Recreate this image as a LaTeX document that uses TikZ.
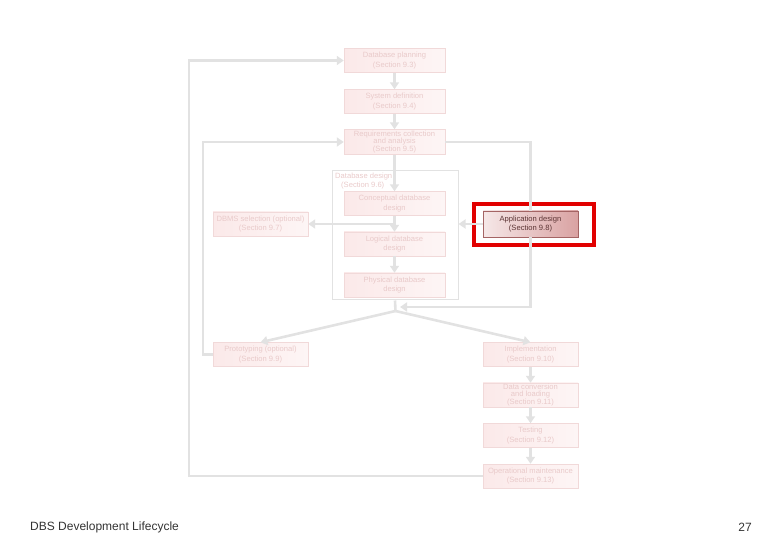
\documentclass[tikz,border=0pt]{standalone}
\usepackage{fontspec}
\setmainfont{Liberation Sans}
\usetikzlibrary{arrows.meta}
\definecolor{flowgray}{HTML}{E2E2E2}
\definecolor{stageedge}{HTML}{F1D9D9}
\definecolor{stagefill}{HTML}{FBE9E9}
\definecolor{stagetext}{HTML}{E9CACA}
\definecolor{activeedge}{HTML}{A46464}
\definecolor{activefill}{HTML}{D9A2A2}
\definecolor{activetext}{HTML}{5C3434}
\definecolor{markred}{HTML}{E10000}
\begin{document}
\begin{tikzpicture}[x=1pt,y=-1pt,
    stage/.style={draw=stageedge, left color=stagefill, right color=stagefill!45,
      minimum width=101pt, minimum height=24pt, inner sep=0pt,
      align=center, text=stagetext, font=\fontsize{7.6}{9.4}\selectfont},
    tallstage/.style={font=\fontsize{7.6}{7.9}\selectfont},
    sidestage/.style={stage, minimum width=95pt},
    activestage/.style={sidestage, draw=activeedge, left color=activefill!25,
      right color=activefill, text=activetext, minimum height=26pt},
    flow/.style={draw=flowgray, line width=2.6pt, -{Triangle[length=7pt,width=9pt]}},
    plainflow/.style={draw=flowgray, line width=2.6pt}]
  \useasboundingbox (0,0) rectangle (780,540);
  % database design frame
  \node[draw=flowgray, line width=1pt, minimum width=126pt, minimum height=129pt,
    inner sep=0pt] (dbbox) at (395,235.5) {};
  \node[anchor=north west, align=left, inner sep=0pt, text=stagetext,
    font=\fontsize{7.6}{8.6}\selectfont] (dblabel) at (335,173)
    {Database design\\\hspace*{6pt}(Section 9.6)};
  % stages
  \node[stage] (plan) at (394.5,60.5) {Database planning\\(Section 9.3)};
  \node[stage] (sysdef) at (394.5,101.5) {System definition\\(Section 9.4)};
  \node[stage, tallstage, minimum height=25pt] (req) at (394.5,142) {Requirements collection\\and analysis\\(Section 9.5)};
  \node[stage] (concept) at (394.5,203.5) {Conceptual database\\design};
  \node[stage] (logical) at (394.5,244) {Logical database\\design};
  \node[stage] (physical) at (394.5,285) {Physical database\\design};
  \node[sidestage] (dbms) at (260.5,224) {DBMS selection (optional)\\(Section 9.7)};
  \node[activestage] (appdes) at (530.5,224) {Application design\\(Section 9.8)};
  \node[sidestage] (proto) at (260.5,354.5) {Prototyping (optional)\\(Section 9.9)};
  \node[sidestage] (impl) at (530.5,354.5) {Implementation\\(Section 9.10)};
  \node[sidestage, tallstage] (convert) at (530.5,395) {Data conversion\\and loading\\(Section 9.11)};
  \node[sidestage] (testing) at (530.5,435.5) {Testing\\(Section 9.12)};
  \node[sidestage] (operate) at (530.5,476) {Operational maintenance\\(Section 9.13)};
  % highlight
  \node[draw=markred, line width=4pt, minimum width=120pt, minimum height=41pt,
    inner sep=0pt] (mark) at (534,224.5) {};
  % junctions
  \coordinate (split) at (394.5,224);
  \coordinate (fork) at (395.5,311);
  \coordinate (rightcorner) at (530.5,307);
  \coordinate (joinright) at (400,307);
  % connectors
  \begin{scope}
    \draw[flow] (plan) -- (sysdef);
    \draw[flow] (sysdef) -- (req);
    \draw[flow] (req) -- (concept);
    \draw[flow] (concept) -- (logical);
    \draw[flow] (logical) -- (physical);
    \draw[flow] (split) -- (dbms);
    \draw[flow] (appdes.west) -- (dbbox.east |- appdes.west);
    \draw[plainflow] (req.east) -| (appdes.north);
    \draw[flow] (appdes.south) -- (rightcorner) -- (joinright);
    \draw[plainflow] (dbbox.south) -- (fork);
    \draw[flow] (fork) -- (proto.north);
    \draw[flow] (fork) -- (impl.north);
    \draw[flow] (proto.west) -- ++(-10,0) |- (req.west);
    \draw[flow] (impl) -- (convert);
    \draw[flow] (convert) -- (testing);
    \draw[flow] (testing) -- (operate);
    \draw[flow] (operate.west) -- ++(-294,0) |- (plan.west);
  \end{scope}
  % footer
  \node[anchor=west, inner sep=0pt, text=black!80, font=\fontsize{12}{14}\selectfont]
    (title) at (30,527) {DBS Development Lifecycle};
  \node[anchor=east, inner sep=0pt, text=black!80, font=\fontsize{12}{14}\selectfont]
    (page) at (752,527) {27};
\end{tikzpicture}
\end{document}
